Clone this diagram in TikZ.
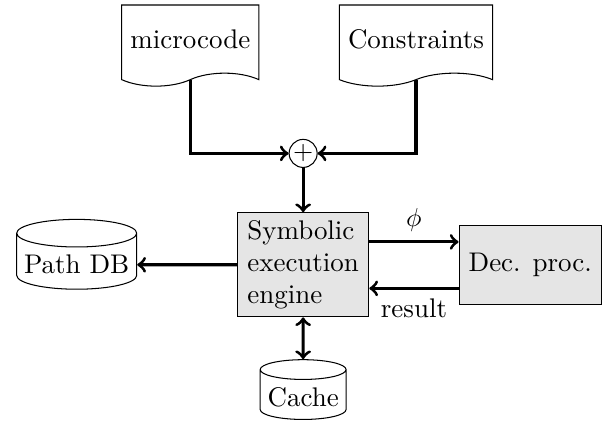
\documentclass[tikz,border=0pt]{standalone}
\usepackage{amsmath,amssymb}
\usepackage{tikz}
\usetikzlibrary{shapes,positioning}
\tikzset{blk/.style={rectangle,draw,fill=black!10,align=left,inner xsep=0.13cm,inner ysep=0.1cm}}
\tikzset{doc/.style={tape,draw,tape bend top=none,minimum height=1.1cm}}
\tikzset{db/.style={cylinder,draw,shape border rotate=90,aspect=0.23,inner xsep=0.1cm,inner ysep=3pt}}
\tikzset{sum/.style={circle,draw,inner sep=0pt,minimum size=0.38cm}}

\begin{document}
\begin{tikzpicture}[>=to,font=\fontsize{10.4}{12.5}\selectfont]
    \useasboundingbox (0,0) rectangle (8.23,5.75);
    \node[doc,minimum width=1.84cm] (mc)at (2.58,5.22) {microcode};
    \node[doc,minimum width=2.06cm] (con)at (5.64,5.22) {Constraints};
    \node[sum] (plus)at (4.11,3.67) {$+$};
    \node[blk,minimum width=1.78cm,minimum height=1.41cm] (see)at (4.11,2.16) {Symbolic\\execution\\engine};
    \node[blk,minimum width=1.88cm,minimum height=1.07cm] (dec)at (7.19,2.16) {Dec. proc.};
    \node[db] (pathdb)at (1.04,2.16) {Path DB};
    \node[db] (cache)at (4.11,0.36) {Cache};

    \draw [->,very thick] (mc) |- (plus);
    \draw [->,very thick] (con) |- (plus);
    \draw [->,very thick] (plus) to [] (see);
    \draw [->,very thick] (see) to [] (pathdb);
    \draw [<->,very thick] (see) to [] (cache);
    \draw [->,very thick] ([yshift=0.31cm]see.east) to [] node[above]{$\phi$} ([yshift=0.31cm]dec.west);
    \draw [->,very thick] ([yshift=-0.32cm]dec.west) to [] node[below]{result} ([yshift=-0.32cm]see.east);
\end{tikzpicture}
\end{document}
